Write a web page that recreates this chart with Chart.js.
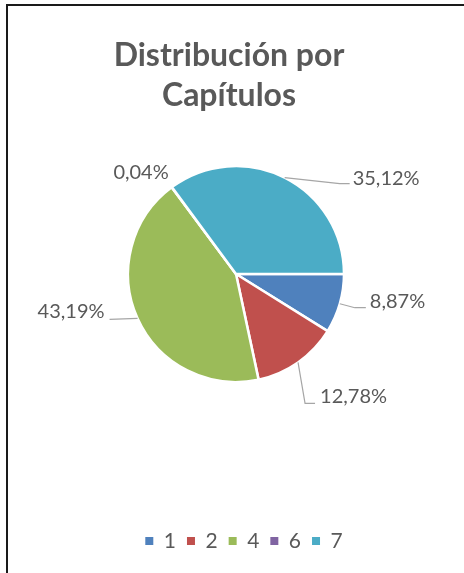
<!DOCTYPE html>
<html>
<head>
<meta charset="utf-8">
<script src="https://cdn.jsdelivr.net/npm/chart.js@4/dist/chart.umd.min.js"></script>
<style>
  html, body { margin: 0; padding: 0; background: #fff; }
  #wrap { position: relative; width: 464px; height: 573px; overflow: hidden; }
  #frame { position: absolute; left: 6px; top: 4px; width: 500px; height: 600px;
           border-top: 2px solid #1a1a1a; border-left: 2px solid #1a1a1a; box-sizing: border-box; }
  canvas { position: absolute; left: 0; top: 0; }
</style>
</head>
<body>
<div id="wrap">
  <div id="frame"></div>
  <canvas id="c" width="464" height="573"></canvas>
</div>
<script>
// ---- data ----
const categories = ['1', '2', '4', '6', '7'];
const percentages = [8.87, 12.78, 43.19, 0.04, 35.12];
const sliceColors = ['#4F81BD', '#C0504D', '#9BBB59', '#8064A2', '#4BACC6'];
const titleLines = ['Distribución por', 'Capítulos'];

const textColor = '#595959';
const FONT = 'Lato, "Open Sans", sans-serif';

// label layout: leader polyline (relative to the slice's outer mid point),
// text offset relative to the end of the leader
const labelLayout = [
  { line: [[0, 0], [15, 4], [26, 4]], text: [4, -6], align: 'left' },
  { line: [[0, 0], [7, 41], [17, 41]], text: [5, -7], align: 'left' },
  { line: [[0, 0], [-28, 1]], text: [-5, -8], align: 'right' },
  { line: null, text: [-3, -15], align: 'right' },
  { line: [[0, 0], [55, 6], [65, 6]], text: [3, -5], align: 'left' }
];

const titlePlugin = {
  id: 'customTitle',
  afterDraw(chart) {
    const ctx = chart.ctx;
    ctx.save();
    ctx.font = 'bold 32px ' + FONT;
    ctx.fillStyle = textColor;
    ctx.textAlign = 'center';
    ctx.textBaseline = 'alphabetic';
    const cx = chart.width / 2 - 3;
    titleLines.forEach((t, i) => ctx.fillText(t, cx, 66 + i * 40));
    ctx.restore();
  }
};

const legendShift = {
  id: 'legendShift',
  afterLayout(chart) {
    if (chart.legend) {
      chart.legend.left += 8;
      chart.legend.right += 8;
    }
  }
};

const labelPlugin = {
  id: 'pieLabels',
  afterDatasetsDraw(chart) {
    const ctx = chart.ctx;
    const meta = chart.getDatasetMeta(0);
    ctx.save();
    ctx.font = '20px ' + FONT;
    ctx.textBaseline = 'middle';
    meta.data.forEach((arc, i) => {
      const p = arc.getProps(['x', 'y', 'startAngle', 'endAngle', 'outerRadius'], true);
      const mid = (p.startAngle + p.endAngle) / 2;
      const ex = p.x + Math.cos(mid) * p.outerRadius;
      const ey = p.y + Math.sin(mid) * p.outerRadius;
      const lay = labelLayout[i];
      let endX = ex, endY = ey;
      if (lay.line) {
        ctx.strokeStyle = '#A6A6A6';
        ctx.lineWidth = 1.2;
        ctx.beginPath();
        lay.line.forEach((pt, k) => {
          const x = ex + pt[0], y = ey + pt[1];
          if (k === 0) ctx.moveTo(x, y); else ctx.lineTo(x, y);
          endX = x; endY = y;
        });
        ctx.stroke();
      }
      const label = percentages[i].toFixed(2).replace('.', ',') + '%';
      ctx.fillStyle = textColor;
      ctx.textAlign = lay.align;
      ctx.fillText(label, endX + lay.text[0], endY + lay.text[1]);
    });
    ctx.restore();
  }
};

new Chart(document.getElementById('c'), {
  type: 'pie',
  data: {
    labels: categories,
    datasets: [{
      data: percentages,
      backgroundColor: sliceColors,
      borderColor: '#ffffff',
      borderWidth: 2.5,
      radius: 108
    }]
  },
  options: {
    responsive: false,
    animation: false,
    rotation: 90,
    layout: { padding: { left: 8, right: 0, top: 28.5, bottom: 11.5 } },
    plugins: {
      tooltip: { enabled: false },
      title: { display: false },
      legend: {
        position: 'bottom',
        labels: {
          color: textColor,
          font: { family: FONT, size: 21 },
          boxWidth: 8,
          boxHeight: 8,
          padding: 11,
          generateLabels(chart) {
            const items = Chart.overrides.pie.plugins.legend.labels.generateLabels(chart);
            return items.map(it => Object.assign(it, { lineWidth: 0, strokeStyle: it.fillStyle }));
          }
        }
      }
    }
  },
  plugins: [labelPlugin, titlePlugin, legendShift]
});
</script>
</body>
</html>
